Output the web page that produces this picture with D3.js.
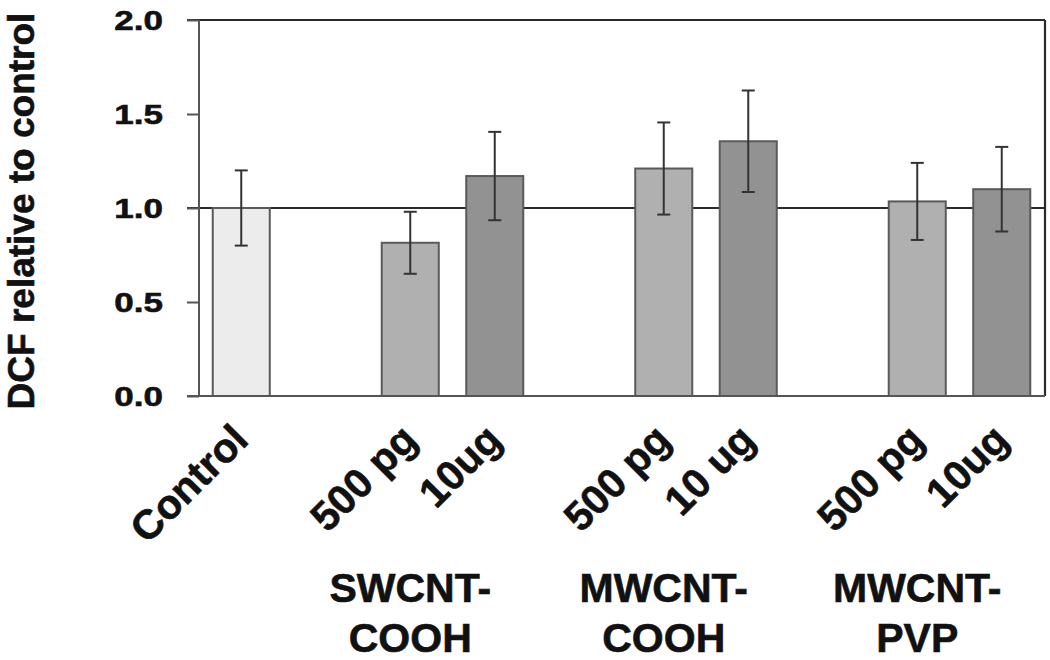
<!DOCTYPE html>
<html>
<head>
<meta charset="utf-8">
<script src="https://cdn.jsdelivr.net/npm/d3@7"></script>
<style>
  html, body { margin: 0; padding: 0; background: #fff; }
  svg { display: block; }
  text { font-family: "Liberation Sans", Arial, sans-serif; font-weight: bold; fill: #111; stroke: #111; stroke-width: 0.6px; }
</style>
</head>
<body>
<svg id="chart" width="1050" height="660"></svg>
<script>
// ---- data ----
const barLabels = ["Control", "500 pg", "10ug", "500 pg", "10 ug", "500 pg", "10ug"];
const barGroups = ["Control", "SWCNT-COOH", "SWCNT-COOH", "MWCNT-COOH", "MWCNT-COOH", "MWCNT-PVP", "MWCNT-PVP"];
const barValues = [1.00, 0.815, 1.17, 1.21, 1.355, 1.035, 1.10];
const barErrors = [0.20, 0.165, 0.235, 0.245, 0.27, 0.205, 0.225];
const groupNames = ["SWCNT-COOH", "MWCNT-COOH", "MWCNT-PVP"];
const groupLines = [["SWCNT-", "COOH"], ["MWCNT-", "COOH"], ["MWCNT-", "PVP"]];
const yTicks = [0.0, 0.5, 1.0, 1.5, 2.0];
const yTitle = "DCF relative to control";

(function () {
// ---- layout ----
const svg = d3.select("#chart");
const pLeft = 199, pRight = 1044, pTop = 20, pBottom = 396;

// slot keys: each bar, with a spacer before each new group
const keys = [];
barGroups.forEach((g, i) => {
  if (i > 0 && g !== barGroups[i - 1]) keys.push("gap-" + i);
  keys.push("bar-" + i);
});

const x = d3.scaleBand().domain(keys).range([pLeft, pRight])
  .paddingInner(0.325).paddingOuter(0.1625);
const y = d3.scaleLinear().domain([0, 2]).range([pBottom, pTop]);

const fillFor = (i) => i === 0 ? "#ececec" : (barLabels[i].startsWith("500") ? "#b0b0b0" : "#929292");

// reference line at 1.0 (behind bars)
svg.append("line")
  .attr("x1", pLeft - 12).attr("x2", pRight + 1)
  .attr("y1", y(1)).attr("y2", y(1))
  .attr("stroke", "#2a2a2a").attr("stroke-width", 2.2);

// top border line
svg.append("line")
  .attr("x1", pLeft - 12).attr("x2", pRight + 1)
  .attr("y1", y(2)).attr("y2", y(2))
  .attr("stroke", "#2a2a2a").attr("stroke-width", 2.2);

// right border
svg.append("line")
  .attr("x1", pRight + 1).attr("x2", pRight + 1)
  .attr("y1", y(2)).attr("y2", y(0))
  .attr("stroke", "#2a2a2a").attr("stroke-width", 2.2);

// bars
const idx = d3.range(barValues.length);
svg.selectAll("rect.bar").data(idx).join("rect")
  .attr("class", "bar")
  .attr("x", i => x("bar-" + i))
  .attr("width", x.bandwidth())
  .attr("y", i => y(barValues[i]))
  .attr("height", i => y(0) - y(barValues[i]))
  .attr("fill", i => fillFor(i))
  .attr("stroke", "#5a5a5a").attr("stroke-width", 2);

// error bars
const cx = i => x("bar-" + i) + x.bandwidth() / 2;
const eb = svg.append("g").attr("stroke", "#333").attr("stroke-width", 2);
eb.selectAll("line.v").data(idx).join("line").attr("class", "v")
  .attr("x1", cx).attr("x2", cx)
  .attr("y1", i => y(barValues[i] + barErrors[i]))
  .attr("y2", i => y(barValues[i] - barErrors[i]));
eb.selectAll("line.t").data(idx).join("line").attr("class", "t")
  .attr("x1", i => cx(i) - 6.5).attr("x2", i => cx(i) + 6.5)
  .attr("y1", i => y(barValues[i] + barErrors[i]))
  .attr("y2", i => y(barValues[i] + barErrors[i]));
eb.selectAll("line.b").data(idx).join("line").attr("class", "b")
  .attr("x1", i => cx(i) - 6.5).attr("x2", i => cx(i) + 6.5)
  .attr("y1", i => y(barValues[i] - barErrors[i]))
  .attr("y2", i => y(barValues[i] - barErrors[i]));

// y axis
const yAxis = d3.axisLeft(y).tickValues(yTicks).tickFormat(d3.format(".1f")).tickSize(12).tickPadding(0);
const ya = svg.append("g").attr("transform", `translate(${pLeft},0)`).call(yAxis);
ya.select(".domain").attr("stroke", "#555").attr("stroke-width", 2).attr("d", `M0,${pTop}V${pBottom}`);
ya.selectAll(".tick line").attr("stroke", "#555").attr("stroke-width", 2);
ya.selectAll(".tick text")
  .attr("x", null).attr("dy", null)
  .attr("text-anchor", "end")
  .attr("font-size", 28)
  .attr("font-family", "Liberation Sans, Arial, sans-serif")
  .attr("font-weight", "bold")
  .attr("fill", "#111")
  .attr("transform", "translate(-36,9) scale(1.25,1)");

// x axis baseline
svg.append("line")
  .attr("x1", pLeft - 12).attr("x2", pRight + 1)
  .attr("y1", pBottom).attr("y2", pBottom)
  .attr("stroke", "#555").attr("stroke-width", 2);

// rotated bar labels
svg.selectAll("text.xl").data(idx).join("text")
  .attr("class", "xl")
  .attr("text-anchor", "end")
  .attr("font-size", 41)
  .attr("transform", i => `translate(${cx(i) + 9},${pBottom + 46}) rotate(-45)`)
  .text(i => barLabels[i]);

// group labels, centred on the first bar of each group
groupNames.forEach((g, gi) => {
  const first = barGroups.indexOf(g);
  const t = svg.append("text")
    .attr("text-anchor", "middle")
    .attr("font-size", 41)
    .attr("x", cx(first));
  groupLines[gi].forEach((ln, li) => {
    t.append("tspan").attr("x", cx(first)).attr("y", 602 + li * 50).text(ln);
  });
});

// y title
svg.append("text")
  .attr("text-anchor", "middle")
  .attr("font-size", 37)
  .attr("transform", `translate(34,211) rotate(-90)`)
  .text(yTitle);
})();
</script>
</body>
</html>
